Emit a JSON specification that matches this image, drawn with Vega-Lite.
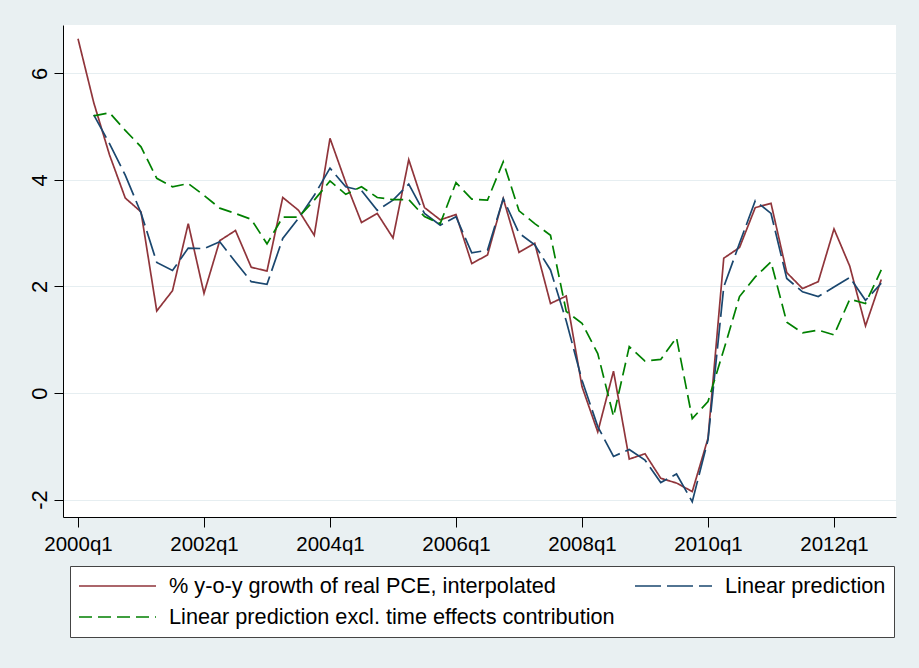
{
  "$schema": "https://vega.github.io/schema/vega-lite/v6.json",
  "autosize": {"type": "none"},
  "padding": {"left": 63, "top": 25, "right": 23, "bottom": 151},
  "width": 833,
  "height": 492,
  "background": "#e9f0f2",
  "config": {
    "view": {"fill": "white", "stroke": null},
    "font": "Liberation Sans",
    "axis": {
      "domainColor": "black",
      "domainWidth": 1,
      "tickColor": "black",
      "tickWidth": 1,
      "labelColor": "black",
      "labelFont": "Liberation Sans",
      "title": null
    }
  },
  "data": {
    "values": [
      {"t": 2000.00, "pce": 6.65, "lin": null, "excl": null},
      {"t": 2000.25, "pce": 5.45, "lin": 5.22, "excl": 5.20},
      {"t": 2000.50, "pce": 4.47, "lin": 4.68, "excl": 5.26},
      {"t": 2000.75, "pce": 3.66, "lin": 4.09, "excl": 4.93},
      {"t": 2001.00, "pce": 3.40, "lin": 3.38, "excl": 4.62},
      {"t": 2001.25, "pce": 1.54, "lin": 2.45, "excl": 4.03},
      {"t": 2001.50, "pce": 1.92, "lin": 2.30, "excl": 3.87},
      {"t": 2001.75, "pce": 3.18, "lin": 2.72, "excl": 3.93},
      {"t": 2002.00, "pce": 1.87, "lin": 2.71, "excl": 3.71},
      {"t": 2002.25, "pce": 2.86, "lin": 2.84, "excl": 3.47},
      {"t": 2002.50, "pce": 3.05, "lin": 2.46, "excl": 3.37},
      {"t": 2002.75, "pce": 2.36, "lin": 2.09, "excl": 3.26},
      {"t": 2003.00, "pce": 2.29, "lin": 2.04, "excl": 2.80},
      {"t": 2003.25, "pce": 3.67, "lin": 2.90, "excl": 3.30},
      {"t": 2003.50, "pce": 3.43, "lin": 3.28, "excl": 3.30},
      {"t": 2003.75, "pce": 2.96, "lin": 3.71, "excl": 3.62},
      {"t": 2004.00, "pce": 4.78, "lin": 4.22, "excl": 3.98},
      {"t": 2004.25, "pce": 3.95, "lin": 3.87, "excl": 3.73},
      {"t": 2004.50, "pce": 3.20, "lin": 3.80, "excl": 3.87},
      {"t": 2004.75, "pce": 3.37, "lin": 3.43, "excl": 3.67},
      {"t": 2005.00, "pce": 2.91, "lin": 3.62, "excl": 3.63},
      {"t": 2005.25, "pce": 4.38, "lin": 3.92, "excl": 3.63},
      {"t": 2005.50, "pce": 3.48, "lin": 3.37, "excl": 3.31},
      {"t": 2005.75, "pce": 3.25, "lin": 3.15, "excl": 3.18},
      {"t": 2006.00, "pce": 3.35, "lin": 3.31, "excl": 3.95},
      {"t": 2006.25, "pce": 2.43, "lin": 2.63, "excl": 3.64},
      {"t": 2006.50, "pce": 2.59, "lin": 2.68, "excl": 3.62},
      {"t": 2006.75, "pce": 3.65, "lin": 3.65, "excl": 4.34},
      {"t": 2007.00, "pce": 2.64, "lin": 3.00, "excl": 3.42},
      {"t": 2007.25, "pce": 2.81, "lin": 2.78, "excl": 3.18},
      {"t": 2007.50, "pce": 1.68, "lin": 2.31, "excl": 2.96},
      {"t": 2007.75, "pce": 1.82, "lin": 1.35, "excl": 1.53},
      {"t": 2008.00, "pce": 0.12, "lin": 0.24, "excl": 1.31},
      {"t": 2008.25, "pce": -0.73, "lin": -0.63, "excl": 0.74},
      {"t": 2008.50, "pce": 0.41, "lin": -1.19, "excl": -0.44},
      {"t": 2008.75, "pce": -1.24, "lin": -1.06, "excl": 0.87},
      {"t": 2009.00, "pce": -1.14, "lin": -1.26, "excl": 0.60},
      {"t": 2009.25, "pce": -1.60, "lin": -1.68, "excl": 0.63},
      {"t": 2009.50, "pce": -1.69, "lin": -1.52, "excl": 1.04},
      {"t": 2009.75, "pce": -1.85, "lin": -2.04, "excl": -0.48},
      {"t": 2010.00, "pce": -0.85, "lin": -0.88, "excl": -0.16},
      {"t": 2010.25, "pce": 2.53, "lin": 1.99, "excl": 0.81},
      {"t": 2010.50, "pce": 2.73, "lin": 2.81, "excl": 1.81},
      {"t": 2010.75, "pce": 3.48, "lin": 3.61, "excl": 2.18},
      {"t": 2011.00, "pce": 3.56, "lin": 3.37, "excl": 2.46},
      {"t": 2011.25, "pce": 2.26, "lin": 2.15, "excl": 1.33},
      {"t": 2011.50, "pce": 1.96, "lin": 1.90, "excl": 1.13},
      {"t": 2011.75, "pce": 2.09, "lin": 1.81, "excl": 1.18},
      {"t": 2012.00, "pce": 3.08, "lin": 1.99, "excl": 1.09},
      {"t": 2012.25, "pce": 2.38, "lin": 2.17, "excl": 1.76},
      {"t": 2012.50, "pce": 1.26, "lin": 1.74, "excl": 1.68},
      {"t": 2012.75, "pce": 2.13, "lin": 2.06, "excl": 2.31}
    ]
  },
  "transform": [
    {"fold": ["pce", "lin", "excl"], "as": ["series", "value"]}
  ],
  "mark": {"type": "line", "strokeWidth": 1.7, "strokeJoin": "miter"},
  "encoding": {
    "x": {
      "field": "t",
      "type": "quantitative",
      "scale": {"domain": [1999.762, 2012.984], "nice": false, "zero": false},
      "axis": {
        "values": [2000, 2002, 2004, 2006, 2008, 2010, 2012],
        "labelExpr": "datum.value + 'q1'",
        "grid": false,
        "tickSize": 10,
        "labelPadding": 7,
        "labelFontSize": 20.5,
        "labelFlush": false,
        "labelOverlap": false
      }
    },
    "y": {
      "field": "value",
      "type": "quantitative",
      "scale": {"domain": [-2.327, 6.907], "nice": false, "zero": false},
      "axis": {
        "values": [-2, 0, 2, 4, 6],
        "labelExpr": "datum.value + ''",
        "grid": true,
        "gridColor": "#e6eef1",
        "gridWidth": 1.2,
        "tickSize": 9,
        "labelAngle": 270,
        "labelAlign": "center",
        "labelBaseline": "alphabetic",
        "labelPadding": 8,
        "labelFontSize": 22,
        "labelFlush": false,
        "labelOverlap": false
      }
    },
    "color": {
      "field": "series",
      "type": "nominal",
      "scale": {"domain": ["pce", "lin", "excl"], "range": ["#90353b", "#1a476f", "#008000"]},
      "legend": {
        "values": ["pce", "lin", "excl"],
        "orient": "none",
        "direction": "horizontal",
        "legendX": 7,
        "legendY": 541,
        "title": null,
        "columns": 2,
        "columnPadding": 19,
        "rowPadding": 7,
        "padding": 8,
        "clipHeight": 24,
        "symbolType": "stroke",
        "symbolSize": 5929,
        "symbolStrokeWidth": 1.7,
        "labelOffset": 12,
        "labelFontSize": 21.7,
        "labelFont": "Liberation Sans",
        "labelColor": "black",
        "labelLimit": 0,
        "fillColor": "white",
        "strokeColor": "#444444",
        "labelExpr": "datum.label == 'pce' ? '% y-o-y growth of real PCE, interpolated' : datum.label == 'lin' ? 'Linear prediction' : 'Linear prediction excl. time effects contribution'"
      }
    },
    "strokeDash": {
      "field": "series",
      "type": "nominal",
      "scale": {"domain": ["pce", "lin", "excl"], "range": [[1, 0], [26, 6], [13, 6]]},
      "legend": {
        "values": ["pce", "lin", "excl"],
        "orient": "none",
        "direction": "horizontal",
        "legendX": 7,
        "legendY": 541,
        "title": null,
        "columns": 2,
        "columnPadding": 19,
        "rowPadding": 7,
        "padding": 8,
        "clipHeight": 24,
        "symbolType": "stroke",
        "symbolSize": 5929,
        "symbolStrokeWidth": 1.7,
        "labelOffset": 12,
        "labelFontSize": 21.7,
        "labelFont": "Liberation Sans",
        "labelColor": "black",
        "labelLimit": 0,
        "fillColor": "white",
        "strokeColor": "#444444",
        "labelExpr": "datum.label == 'pce' ? '% y-o-y growth of real PCE, interpolated' : datum.label == 'lin' ? 'Linear prediction' : 'Linear prediction excl. time effects contribution'"
      }
    }
  }
}
